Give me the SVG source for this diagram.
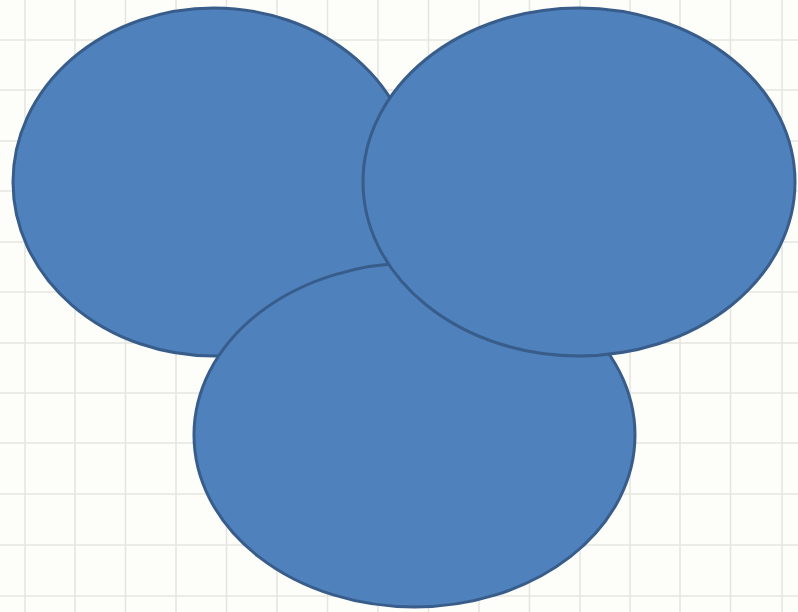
<svg xmlns="http://www.w3.org/2000/svg" width="798" height="612" viewBox="0 0 798 612">
<defs>
<style>
.grid line{stroke:#e6e6e1;stroke-width:1.6}
.node ellipse{fill:#4f81bd;stroke:#385d8a;stroke-width:3}
</style>
</defs>
<rect width="798" height="612" fill="#fdfdf9"/>
<g class="grid">
<line x1="25" y1="0" x2="25" y2="612"/>
<line x1="75" y1="0" x2="75" y2="612"/>
<line x1="125.5" y1="0" x2="125.5" y2="612"/>
<line x1="176" y1="0" x2="176" y2="612"/>
<line x1="226.5" y1="0" x2="226.5" y2="612"/>
<line x1="277" y1="0" x2="277" y2="612"/>
<line x1="327.5" y1="0" x2="327.5" y2="612"/>
<line x1="378" y1="0" x2="378" y2="612"/>
<line x1="428.5" y1="0" x2="428.5" y2="612"/>
<line x1="479" y1="0" x2="479" y2="612"/>
<line x1="529.5" y1="0" x2="529.5" y2="612"/>
<line x1="580" y1="0" x2="580" y2="612"/>
<line x1="630" y1="0" x2="630" y2="612"/>
<line x1="680" y1="0" x2="680" y2="612"/>
<line x1="730.5" y1="0" x2="730.5" y2="612"/>
<line x1="782" y1="0" x2="782" y2="612"/>
<line x1="0" y1="40" x2="798" y2="40"/>
<line x1="0" y1="90" x2="798" y2="90"/>
<line x1="0" y1="141" x2="798" y2="141"/>
<line x1="0" y1="191" x2="798" y2="191"/>
<line x1="0" y1="242" x2="798" y2="242"/>
<line x1="0" y1="292" x2="798" y2="292"/>
<line x1="0" y1="343" x2="798" y2="343"/>
<line x1="0" y1="393" x2="798" y2="393"/>
<line x1="0" y1="443" x2="798" y2="443"/>
<line x1="0" y1="494" x2="798" y2="494"/>
<line x1="0" y1="545" x2="798" y2="545"/>
<line x1="0" y1="596" x2="798" y2="596"/>
</g>
<g id="connectors"></g>
<g id="ellipse-left" class="node"><ellipse cx="214" cy="182" rx="201" ry="174"/></g>
<g id="ellipse-bottom" class="node"><ellipse cx="414.5" cy="435" rx="220.5" ry="172"/></g>
<g id="ellipse-right" class="node"><ellipse cx="579" cy="182" rx="216" ry="174"/></g>
</svg>
